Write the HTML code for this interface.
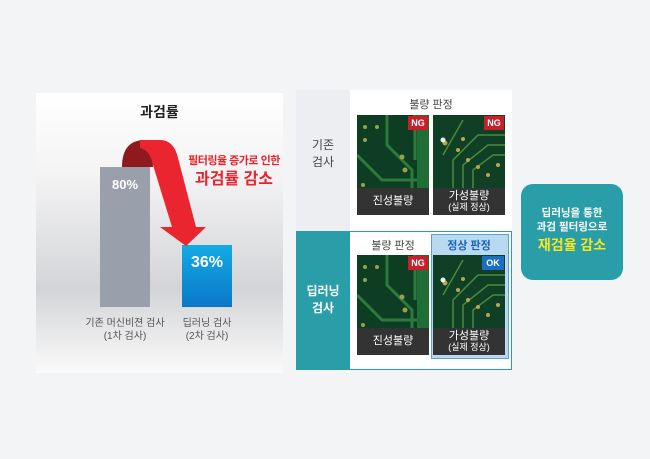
<!DOCTYPE html>
<html><head><meta charset="utf-8"><style>
body{margin:0;width:650px;height:459px;background:#f3f4f6;position:relative;overflow:hidden;font-family:"Liberation Sans","Noto Sans CJK KR",sans-serif}
.a{position:absolute}
.c{text-align:center}
.lbl{position:absolute;background:#333;color:#fff;font-size:11px;text-align:center;width:72px}
.tag{position:absolute;color:#fff;font-size:9px;font-weight:bold;width:20px;height:14px;line-height:14px;text-align:center}
</style></head><body>
<svg width="0" height="0" style="position:absolute">
<defs>
<g id="p1"><rect width="72" height="73" fill="#0d3d22"/><path d="M0 40 L25 65 L72 65 M30 0 L30 30 L55 55 L55 73 M58 0 L58 45" stroke="#2e7a3c" stroke-width="3" fill="none"/><rect x="60" y="0" width="12" height="73" fill="#1f6e35"/><g fill="#9ba04a"><circle cx="8" cy="12" r="2"/><circle cx="8" cy="25" r="2"/><circle cx="20" cy="12" r="2"/><circle cx="45" cy="42" r="2.5"/><circle cx="48" cy="55" r="2.5"/><circle cx="6" cy="70" r="2"/></g></g>
<g id="p2"><rect width="72" height="73" fill="#0f3f24"/><path d="M20 73 L20 45 L45 20 L72 20 M30 73 L30 50 L55 30 L72 30 M40 73 L40 55 L60 40 L72 40 M10 40 L30 5" stroke="#4a8a3c" stroke-width="1.5" fill="none"/><g fill="#b8a650"><circle cx="12" cy="28" r="2.5"/><circle cx="25" cy="35" r="2"/><circle cx="35" cy="45" r="2"/><circle cx="45" cy="52" r="2"/><circle cx="55" cy="60" r="2"/><circle cx="65" cy="50" r="2"/><circle cx="30" cy="24" r="2"/></g><circle cx="10" cy="25" r="2.5" fill="#eee"/></g>
</defs></svg>

<!-- left panel -->
<div class="a" style="left:36px;top:93px;width:247px;height:280px;background:linear-gradient(#fff 0%,#f3f3f4 30%,#d3d4d7 70%,#fafafa 100%)"></div>
<div class="a c" style="left:36px;top:102px;width:247px;font-size:14px;font-weight:bold;color:#222">과검률</div>
<svg class="a" style="left:0;top:0" width="650" height="459">
<path d="M122,167 Q122,140 145,140 Q152,145 153,167 Z" fill="#8e1a1e"/>
</svg>
<div class="a" style="left:100px;top:167px;width:50px;height:140px;background:#9aa0ab"></div>
<div class="a c" style="left:100px;top:177px;width:50px;color:#fff;font-size:13px;font-weight:bold">80%</div>
<div class="a" style="left:182px;top:245px;width:50px;height:62px;background:linear-gradient(#14aae5,#0a78c8)"></div>
<div class="a c" style="left:182px;top:254px;width:50px;color:#fff;font-size:16px;font-weight:bold">36%</div>
<svg class="a" style="left:0;top:0" width="650" height="459">
<path d="M140,140 L160,140 Q174,140 178,158 L196,227 L206,227 L186,246 L160,227 L172,227 L153,165 Q150,150 140,148 Z" fill="#ea2530"/>
</svg>
<div class="a c" style="left:178px;top:152px;width:112px;color:#e8232d;font-size:11px;font-weight:bold;letter-spacing:-0.5px">필터링율 증가로 인한</div>
<div class="a c" style="left:178px;top:165px;width:112px;color:#e8232d;font-size:16px;font-weight:bold">과검률 감소</div>
<div class="a c" style="left:75px;top:317px;width:100px;color:#555;font-size:10px;line-height:13px">기존 머신비젼 검사<br>(1차 검사)</div>
<div class="a c" style="left:157px;top:317px;width:100px;color:#555;font-size:10px;line-height:13px">딥러닝 검사<br>(2차 검사)</div>

<!-- right panel -->
<div class="a" style="left:296px;top:90px;width:216px;height:280px;background:#fff"></div>
<div class="a" style="left:296px;top:90px;width:54px;height:141px;background:#eceef1"></div>
<div class="a c" style="left:296px;top:137px;width:54px;font-size:12px;color:#444;line-height:17px">기존<br>검사</div>
<div class="a" style="left:296px;top:231px;width:54px;height:139px;background:#2a9ea8"></div>
<div class="a" style="left:349px;top:231px;width:161px;height:137px;border:1px solid #2a9ea8"></div>
<div class="a c" style="left:296px;top:283px;width:54px;font-size:12px;color:#fff;font-weight:bold;line-height:17px">딥러닝<br>검사</div>
<div class="a c" style="left:357px;top:96px;width:148px;font-size:11px;color:#444">불량 판정</div>

<svg class="a" style="left:357px;top:115px" width="72" height="73"><use href="#p1"/></svg>
<svg class="a" style="left:433px;top:115px" width="72" height="73"><use href="#p2"/></svg>
<div class="tag" style="left:408px;top:116px;background:#c8202a">NG</div>
<div class="tag" style="left:484px;top:116px;background:#c8202a">NG</div>
<div class="lbl" style="left:357px;top:188px;height:27px;line-height:27px">진성불량</div>
<div class="lbl" style="left:433px;top:188px;height:27px;line-height:11px;padding-top:3px;box-sizing:border-box">가성불량<br><span style="font-size:9px">(실제 정상)</span></div>

<div class="a" style="left:431px;top:234px;width:76px;height:123px;background:#b9d9f1;border:1px solid #5aa0d8"></div>
<div class="a c" style="left:357px;top:237px;width:72px;font-size:11px;color:#444">불량 판정</div>
<div class="a c" style="left:433px;top:237px;width:72px;font-size:11px;color:#1a63b5;font-weight:bold">정상 판정</div>
<svg class="a" style="left:357px;top:255px" width="72" height="73"><use href="#p1"/></svg>
<svg class="a" style="left:433px;top:255px" width="72" height="73"><use href="#p2"/></svg>
<div class="tag" style="left:408px;top:256px;background:#c8202a">NG</div>
<div class="tag" style="left:482px;top:256px;width:22px;background:#1a6fc0">OK</div>
<div class="lbl" style="left:357px;top:328px;height:27px;line-height:27px">진성불량</div>
<div class="lbl" style="left:433px;top:328px;height:27px;line-height:11px;padding-top:3px;box-sizing:border-box">가성불량<br><span style="font-size:9px">(실제 정상)</span></div>

<!-- callout -->
<div class="a c" style="left:521px;top:184px;width:102px;height:96px;background:#2a9ea8;border-radius:12px"></div>
<div class="a c" style="left:521px;top:206px;width:102px;color:#fff;font-size:10.5px;line-height:14px;font-weight:bold">딥러닝을 통한<br>과검 필터링으로</div>
<div class="a c" style="left:521px;top:235px;width:102px;color:#f5e61e;font-size:14px;font-weight:bold">재검율 감소</div>
</body></html>
